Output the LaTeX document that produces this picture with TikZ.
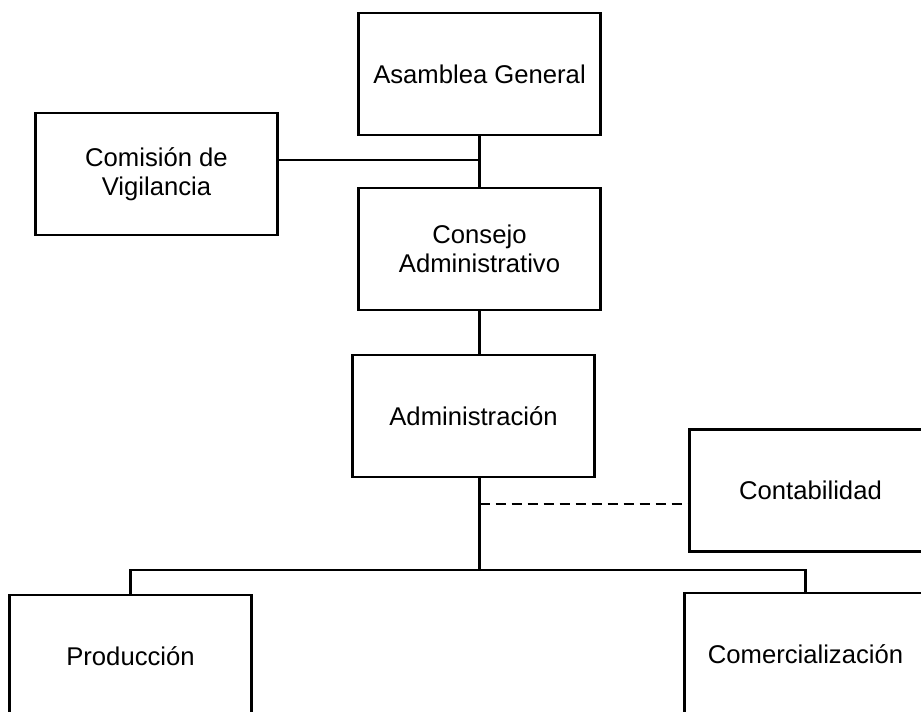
\documentclass[tikz,border=0pt]{standalone}
\usepackage{fontspec}
\setmainfont{Liberation Sans}
\usepackage{tikz}
\usetikzlibrary{positioning,calc}

\begin{document}
\begin{tikzpicture}[auto, node distance=1cm, line width=1.2pt]
    \tikzstyle{unit} = [draw, rectangle, align=center, minimum width=4.84cm, minimum height=2.44cm, inner sep=0pt, outer sep=0pt, font=\fontsize{14.6}{16.2}\selectfont]
    \tikzstyle{link} = [line width=1.2pt]
    \tikzstyle{staff} = [line width=1.2pt, dash pattern=on 0.2cm off 0.12cm]

    \useasboundingbox (0,0) rectangle (18.42,-14.24);

    \node [unit] (asamblea) at (9.59,-1.48) {Asamblea General};
    \node [unit, left=1.62cm of asamblea, yshift=-2cm] (vigilancia) {Comisión de\\Vigilancia};
    \node [unit, below=1.06cm of asamblea] (consejo) {Consejo\\Administrativo};
    \node [unit, below=0.9cm of consejo, xshift=-0.12cm] (admin) {Administración};
    \node [unit, right=1.9cm of admin, yshift=-1.49cm] (contab) {Contabilidad};
    \node [unit, below=2.36cm of admin, xshift=-6.86cm] (produccion) {Producción};
    \node [unit, below=2.32cm of admin, xshift=6.64cm] (comercial) {Comercialización};

    % puntos de union
    \coordinate (vig) at ([yshift=0.28cm]vigilancia.east);
    \coordinate (cont) at ([yshift=-0.27cm]contab.west);
    \coordinate (split) at ($(consejo.south |- admin.south)+(0,-1.86)$);

    \draw [link] (asamblea.south) -- (asamblea.south |- consejo.north);
    \draw [link] (vig) -- (vig -| asamblea.south);
    \draw [link] (consejo.south) -- (consejo.south |- admin.north);
    \draw [link] (consejo.south |- admin.south) -- (split);
    \draw [staff] (cont -| split) -- (cont);
    \draw [link] (produccion.north) |- (split) -| (comercial.north);
\end{tikzpicture}
\end{document}
